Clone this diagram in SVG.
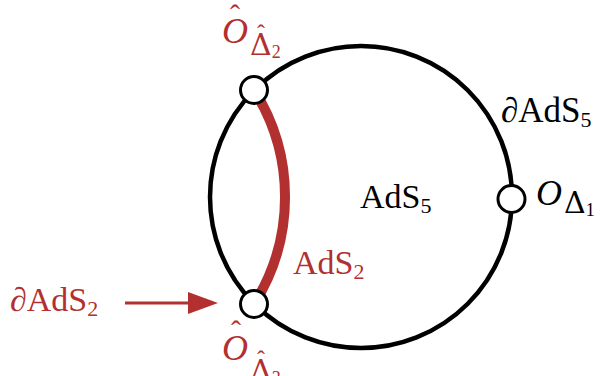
<svg xmlns="http://www.w3.org/2000/svg" width="601" height="376" viewBox="0 0 601 376">
<defs>
<style>
.t{font-family:"Liberation Serif","DejaVu Serif",serif;font-size:34px;fill:#000}
.r{fill:#b2302f}
.cal{font-style:italic;font-size:36px}
.sub{font-size:22px}
.dl{font-family:"DejaVu Serif",serif;font-size:30px}
.ssub{font-family:"Liberation Serif",serif;font-size:18px}
.hat{font-size:30px}
.shat{font-size:24px}
.node{fill:#fff;stroke:#000;stroke-width:3}
</style>
</defs>
<rect width="601" height="376" fill="#fff"/>
<g id="connectors">
<circle id="ads5-boundary" cx="361" cy="197" r="151" fill="none" stroke="#000" stroke-width="4.5"/>
<path id="ads2" d="M254,90 A200,200 0 0 1 254,304" fill="none" stroke="#b2302f" stroke-width="10"/>
<line x1="125" y1="303" x2="192" y2="303" stroke="#b2302f" stroke-width="3"/>
<polygon points="188,292 218,303 188,314" fill="#b2302f"/>
</g>
<g id="node-top"><circle class="node" cx="254" cy="90" r="13.5"/></g>
<g id="node-bottom"><circle class="node" cx="254" cy="304" r="13.5"/></g>
<g id="node-right"><circle class="node" cx="511.5" cy="199" r="13.5"/></g>
<g id="labels">
<text class="t" x="501" y="122" style="font-size:35px">∂AdS<tspan class="sub" dy="5">5</tspan></text>
<text class="t" x="360" y="208">AdS<tspan class="sub" dy="5">5</tspan></text>
<text class="t r" x="293" y="274">AdS<tspan class="sub" dy="5">2</tspan></text>
<text class="t r" x="10" y="311">∂AdS<tspan class="sub" dy="5">2</tspan></text>
<text class="t cal" x="536" y="205">O</text>
<text class="t dl" x="564" y="213">Δ<tspan class="ssub" dy="3">1</tspan></text>
<text class="t r cal" x="222" y="43">O</text>
<text class="t r hat" x="235" y="25" text-anchor="middle">ˆ</text>
<text class="t r dl" x="250" y="55">Δ<tspan class="ssub" dy="3">2</tspan></text>
<text class="t r shat" x="261" y="41" text-anchor="middle">ˆ</text>
<text class="t r cal" x="222" y="360">O</text>
<text class="t r hat" x="236" y="341" text-anchor="middle">ˆ</text>
<text class="t r dl" x="250" y="381">Δ<tspan class="ssub" dy="3">3</tspan></text>
<text class="t r shat" x="261" y="367" text-anchor="middle">ˆ</text>
</g>
</svg>
